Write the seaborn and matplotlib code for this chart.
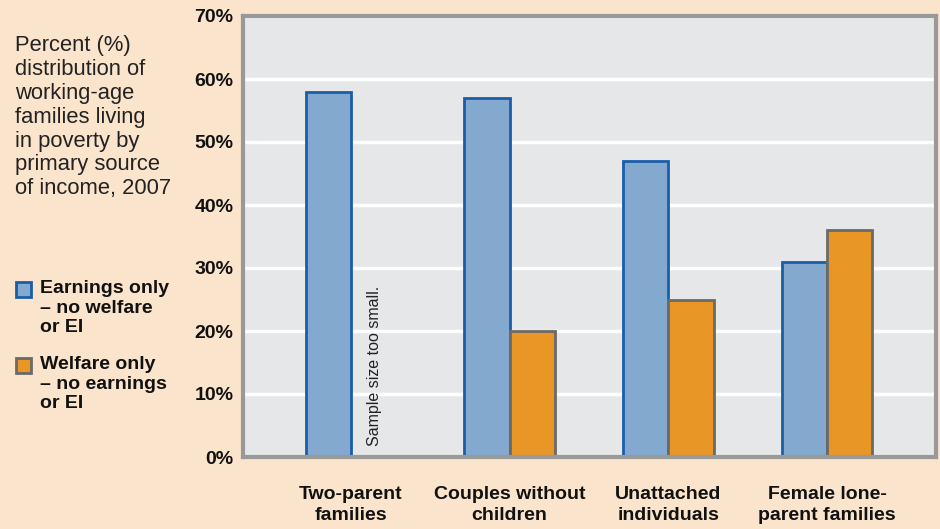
import matplotlib
matplotlib.use("Agg")
import matplotlib.pyplot as plt
from matplotlib.patches import Rectangle
import pandas as pd
import seaborn as sns

# data
categories = ["Two-parent\nfamilies", "Couples without\nchildren",
              "Unattached\nindividuals", "Female lone-\nparent families"]
earnings_only = [58, 57, 47, 31]
welfare_only = [None, 20, 25, 36]  # two-parent: sample size too small
series = ["Earnings only", "Welfare only"]
yticks = [0, 10, 20, 30, 40, 50, 60, 70]

df = pd.DataFrame({
    "category": categories * 2,
    "source": [series[0]] * 4 + [series[1]] * 4,
    "value": earnings_only + welfare_only,
})

bg = "#fbe4cc"
blue, blue_edge = "#84a9ce", "#1a5ea8"
orange, orange_edge = "#e89626", "#6a6a6a"

sns.set_style("white")
plt.rcParams["font.family"] = ["Liberation Sans", "DejaVu Sans"]

fig = plt.figure(figsize=(9.4, 5.29), dpi=100, facecolor=bg)
ax = fig.add_axes([243 / 940, 1 - 457 / 529, 693 / 940, 441 / 529])
ax.set_facecolor("#e6e7e9")

sns.barplot(data=df, x="category", y="value", hue="source", order=categories,
            hue_order=series, palette=[blue, orange], saturation=1,
            width=0.57, gap=0, legend=False, ax=ax, linewidth=2)

for bar in ax.patches:
    if bar.get_facecolor()[0] < 0.7:
        bar.set_edgecolor(blue_edge)
    else:
        bar.set_edgecolor(orange_edge)

ax.set_ylim(0, 70)
ax.set_xlim(-0.68, 3.687)
ax.set_yticks(yticks)
ax.set_yticklabels([f"{v}%" for v in yticks], fontweight="bold", fontsize=14,
                   color="#111111")
ax.set_xticks(range(len(categories)))
ax.set_xticklabels(categories, fontweight="bold", fontsize=14, linespacing=1.3,
                   color="#111111")
ax.tick_params(axis="y", length=0, pad=7)
ax.tick_params(axis="x", length=0, pad=21)
ax.set_axisbelow(True)
ax.yaxis.grid(True, color="white", linewidth=2.5)
ax.set_xlabel("")
ax.set_ylabel("")
for sp in ax.spines.values():
    sp.set_visible(True)
    sp.set_color("#999999")
    sp.set_linewidth(3)

ax.text(0.15, 1.8, "Sample size too small.", rotation=90, ha="center",
        va="bottom", fontsize=11.5, color="#222222")

fig.text(15 / 940, 1 - 35 / 529,
         "Percent (%)\ndistribution of\nworking-age\nfamilies living\n"
         "in poverty by\nprimary source\nof income, 2007",
         ha="left", va="top", fontsize=15.8, linespacing=1.18, color="#222222")

# legend
legend_items = [
    (281, blue, blue_edge, "Earnings only\n– no welfare\nor EI"),
    (357, orange, orange_edge, "Welfare only\n– no earnings\nor EI"),
]
for ytop, fc, ec, label in legend_items:
    fig.patches.append(Rectangle((16 / 940, 1 - (ytop + 16) / 529), 15 / 940, 15 / 529,
                                 transform=fig.transFigure, facecolor=fc,
                                 edgecolor=ec, linewidth=2))
    fig.text(40 / 940, 1 - (ytop - 1) / 529, label, ha="left", va="top",
             fontsize=14, fontweight="bold", linespacing=1.2, color="#111111")

fig.savefig("out.png", dpi=100, facecolor=bg)
